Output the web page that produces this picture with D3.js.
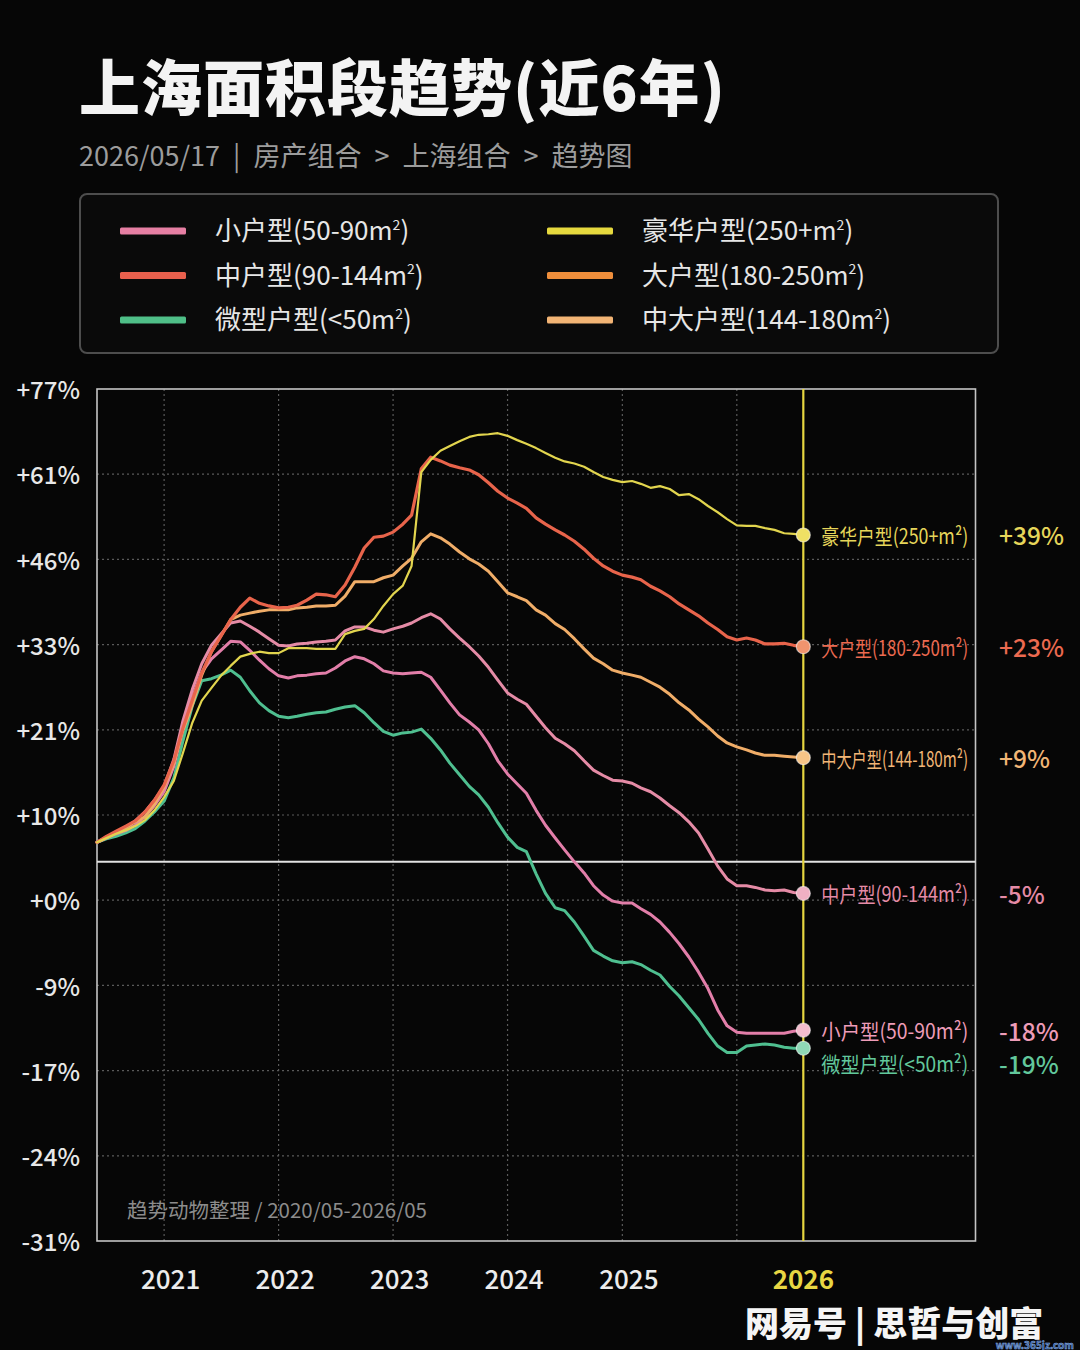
<!DOCTYPE html>
<html>
<head>
<meta charset="utf-8">
<script src="https://cdn.jsdelivr.net/npm/d3@7"></script>
<style>
html,body{margin:0;padding:0;background:#060606;}
svg{display:block;}
text{font-family:"Noto Sans CJK SC","Noto Sans",sans-serif;}
</style>
</head>
<body>
<svg id="chart" width="1080" height="1350"></svg>
<script>
// ---------------- DATA ----------------
const categories = ['小户型(50-90m²)','中户型(90-144m²)','微型户型(<50m²)','豪华户型(250+m²)','大户型(180-250m²)','中大户型(144-180m²)'];
const changeLabels = ['-18%','-5%','-19%','+39%','+23%','+9%'];
const yTickValues = [77,61,46,33,21,10,0,-9,-17,-24,-31];
const yTickLabels = ['+77%','+61%','+46%','+33%','+21%','+10%','+0%','-9%','-17%','-24%','-31%'];
const xTickYears = [2021,2022,2023,2024,2025];
const xTickLabels = ['2021','2022','2023','2024','2025'];
const gridYears = [2021,2022,2023,2024,2025,2026];
const endTickLabel = '2026';
const baselineValue = 4.5;
const firstMonth = [2020, 6];   // monthly series start (year, month)
const lastMonth = [2026, 8];    // monthly series end (year, month)

const valuesSmall = [
 6.8, 7.3, 7.8, 8.2, 8.8, 9.8, 11.2, 13.0, 16.3, 21.0,
 25.6, 29.1, 31.0, 32.2, 33.5, 33.4, 32.2, 30.8, 29.6, 28.6,
 28.3, 28.6, 28.7, 28.9, 29.0, 29.7, 30.7, 31.3, 31.0, 30.3,
 29.3, 29.0, 28.9, 29.0, 29.1, 28.4, 26.6, 24.8, 23.1, 22.1,
 21.0, 19.2, 17.0, 15.3, 14.0, 12.8, 10.6, 8.8, 7.3, 5.9,
 4.5, 3.2, 1.7, 0.6, -0.1, -0.3, -0.3, -0.9, -1.5, -2.3,
 -3.4, -4.6, -6.0, -7.6, -9.3, -11.3, -12.8, -13.4, -13.5, -13.5,
 -13.5, -13.5, -13.5, -13.3, -13.2];
const valuesMedium = [
 6.8, 7.4, 8.0, 8.6, 9.3, 10.4, 11.9, 13.7, 17.2, 22.1,
 26.7, 30.3, 32.9, 34.6, 36.3, 36.6, 35.8, 34.9, 33.9, 32.9,
 32.8, 33.1, 33.2, 33.4, 33.5, 33.7, 35.1, 35.7, 35.7, 35.2,
 34.9, 35.4, 35.8, 36.3, 37.1, 37.7, 36.9, 35.4, 34.0, 32.7,
 31.4, 29.8, 28.0, 26.2, 25.3, 24.6, 22.9, 21.3, 19.9, 19.2,
 18.3, 17.0, 15.8, 15.1, 14.5, 14.4, 14.1, 13.5, 13.0, 12.2,
 11.2, 10.3, 9.2, 7.9, 6.0, 4.0, 2.5, 1.7, 1.7, 1.5,
 1.2, 1.1, 1.2, 0.9, 0.8];
const valuesMicro = [
 6.8, 7.2, 7.5, 7.9, 8.4, 9.3, 10.4, 11.8, 14.8, 19.4,
 24.4, 27.9, 28.2, 28.7, 29.4, 28.4, 26.5, 24.8, 23.7, 22.9,
 22.7, 22.9, 23.2, 23.4, 23.5, 23.9, 24.2, 24.4, 23.4, 22.0,
 20.8, 20.3, 20.6, 20.7, 21.1, 19.9, 18.4, 16.7, 15.2, 13.7,
 12.6, 11.0, 9.1, 7.4, 6.2, 5.7, 3.1, 0.8, -0.8, -1.1,
 -2.3, -3.8, -5.3, -5.9, -6.4, -6.6, -6.5, -6.8, -7.4, -7.9,
 -9.1, -10.0, -11.1, -12.2, -13.5, -14.7, -15.3, -15.3, -14.7, -14.6,
 -14.5, -14.6, -14.8, -14.9, -14.9];
const valuesLuxury = [
 6.8, 7.3, 7.8, 8.2, 8.7, 9.4, 10.6, 12.3, 14.4, 17.9,
 22.0, 25.1, 26.9, 28.6, 30.0, 31.3, 31.7, 32.0, 31.8, 31.8,
 32.5, 32.5, 32.5, 32.4, 32.4, 32.4, 34.6, 35.1, 35.4, 36.9,
 38.9, 40.7, 42.0, 45.0, 61.4, 63.7, 65.4, 66.3, 67.2, 68.0,
 68.4, 68.5, 68.7, 68.2, 67.4, 66.7, 65.9, 65.0, 64.1, 63.4,
 63.0, 62.4, 61.4, 60.5, 60.0, 59.6, 59.8, 59.3, 58.6, 58.9,
 58.4, 57.3, 57.5, 56.6, 55.4, 54.3, 53.1, 52.0, 51.9, 51.9,
 51.5, 51.2, 50.6, 50.5, 50.3];
const valuesLarge = [
 6.8, 7.5, 8.1, 8.7, 9.3, 10.4, 11.9, 13.9, 17.0, 21.1,
 25.2, 29.0, 32.0, 34.3, 36.8, 38.7, 40.1, 39.3, 38.9, 38.6,
 38.7, 39.0, 39.8, 40.7, 40.6, 40.3, 42.1, 44.8, 48.0, 49.9,
 50.1, 50.8, 52.2, 53.8, 62.0, 64.2, 63.5, 62.7, 62.2, 61.8,
 60.9, 59.5, 58.0, 56.8, 55.9, 55.0, 53.3, 52.2, 51.2, 50.3,
 49.2, 47.8, 46.2, 45.0, 44.2, 43.6, 43.3, 42.9, 41.9, 41.2,
 40.3, 39.2, 38.3, 37.4, 36.3, 35.3, 34.2, 33.7, 34.0, 33.7,
 33.1, 33.1, 33.2, 32.9, 32.7];
const valuesMidLarge = [
 6.8, 7.3, 7.9, 8.5, 9.2, 9.8, 11.4, 13.6, 16.7, 20.8,
 24.5, 28.7, 32.0, 34.3, 36.8, 37.5, 37.8, 38.1, 38.3, 38.3,
 38.3, 38.6, 38.7, 38.9, 38.9, 39.0, 40.4, 42.6, 42.6, 42.6,
 43.2, 43.6, 45.0, 46.2, 49.1, 50.5, 49.8, 48.7, 47.3, 46.1,
 45.3, 44.2, 42.6, 40.9, 40.3, 39.7, 38.3, 37.5, 36.2, 35.3,
 33.9, 32.4, 31.1, 30.3, 29.4, 29.0, 28.7, 28.4, 27.7, 27.0,
 26.0, 24.8, 23.8, 22.5, 21.4, 20.2, 19.3, 18.8, 18.4, 18.0,
 17.7, 17.7, 17.6, 17.5, 17.4];
const seriesValues = [valuesSmall, valuesMedium, valuesMicro, valuesLuxury, valuesLarge, valuesMidLarge];

// ---------------- STYLE ----------------
const lineColors   = ['#e27ea9','#e58ba6','#4fbf90','#e2d54e','#e8644b','#f0ad68'];
const legendColors = ['#e67fa3','#e8604d','#4fbf88','#e6d93e','#ef8e3b','#f2b475'];
const labelColors  = ['#ee9cb8','#e58ba6','#62c89c','#e6d65a','#ec6a50','#f2b676'];
const dotColors    = ['#f4bccd','#f0b0c3','#8fd8b6','#efe064','#f0946e','#f6c487'];
const lineWidths   = [3,3,3,2.2,3.2,3];
const drawOrder    = [2,0,1,5,4,3];
const legendSlots  = [[0,0],[0,1],[0,2],[1,0],[1,1],[1,2]];

// helper: write a label, rendering "²" as a small raised 2
function writeLabel(textSel, str, supSize) {
  const parts = str.split('²');
  parts.forEach((p, k) => {
    if (k > 0) {
      textSel.append('tspan').attr('font-size', supSize).attr('dy', -supSize * 0.75).text('2');
      textSel.append('tspan').attr('dy', supSize * 0.75).text(p);
    } else {
      textSel.append('tspan').text(p);
    }
  });
}

// ---------------- LAYOUT ----------------
const svg = d3.select('#chart');
const W = 1080, H = 1350;
const plot = {left: 97, right: 975.5, top: 389, bottom: 1241};

svg.append('rect').attr('width', W).attr('height', H).attr('fill', '#060606');

// Title & subtitle
svg.append('text').attr('x', 79).attr('y', 111)
  .attr('font-size', 61).attr('font-weight', 900).attr('fill', '#f3f3f3')
  .attr('letter-spacing', 1)
  .text('上海面积段趋势(近6年)');
svg.append('text').attr('x', 79).attr('y', 166)
  .attr('font-size', 27).attr('fill', '#9c9c9c').attr('word-spacing', 7)
  .text('2026/05/17 | 房产组合 > 上海组合 > 趋势图');

// Legend
const lg = svg.append('g');
lg.append('rect').attr('x', 80).attr('y', 194).attr('width', 918).attr('height', 159)
  .attr('rx', 7).attr('fill', '#0a0a0a').attr('stroke', '#4d4d4d').attr('stroke-width', 2);
const legendColX = [120, 547];
const legendRowY = [231, 275.5, 320];
categories.forEach((c, i) => {
  const [col, row] = legendSlots[i];
  const gx = legendColX[col], gy = legendRowY[row];
  lg.append('rect').attr('x', gx).attr('y', gy - 3.5).attr('width', 66).attr('height', 7)
    .attr('rx', 1.5).attr('fill', legendColors[i]);
  const t = lg.append('text').attr('x', gx + 95).attr('y', gy + 9)
    .attr('font-size', 26).attr('fill', '#e6e6e6');
  writeLabel(t, c, 14);
});

// Scales
const parseMonth = ([yy, mm]) => new Date(yy, mm - 1, 1);
const dates = d3.timeMonth.range(parseMonth(firstMonth), d3.timeMonth.offset(parseMonth(lastMonth), 1));
const x = d3.scaleTime().domain([new Date(2020, 5, 1), new Date(2028, 1, 1)]).range([plot.left, plot.right]);
const step = (plot.bottom - plot.top) / (yTickValues.length - 1);
const y = d3.scaleLinear().domain(yTickValues).range(yTickValues.map((d, i) => plot.top + i * step));

// Grid
const grid = svg.append('g');
grid.selectAll('line.h').data(yTickValues.slice(1, -1)).join('line')
  .attr('x1', plot.left).attr('x2', plot.right)
  .attr('y1', d => y(d)).attr('y2', d => y(d))
  .attr('stroke', '#5a5a5a').attr('stroke-width', 1.2).attr('stroke-dasharray', '2,3');
grid.selectAll('line.v').data(gridYears).join('line')
  .attr('x1', d => x(new Date(d, 0, 1))).attr('x2', d => x(new Date(d, 0, 1)))
  .attr('y1', plot.top).attr('y2', plot.bottom)
  .attr('stroke', '#5a5a5a').attr('stroke-width', 1.2).attr('stroke-dasharray', '2,3');

// Frame
svg.append('rect').attr('x', plot.left).attr('y', plot.top)
  .attr('width', plot.right - plot.left).attr('height', plot.bottom - plot.top)
  .attr('fill', 'none').attr('stroke', '#c4c4c4').attr('stroke-width', 1.6);

// Baseline
svg.append('line').attr('x1', plot.left).attr('x2', plot.right)
  .attr('y1', y(baselineValue)).attr('y2', y(baselineValue))
  .attr('stroke', '#e2e2e2').attr('stroke-width', 2);

// Source note
svg.append('text').attr('x', 127).attr('y', 1209).attr('dominant-baseline', 'central')
  .attr('font-size', 20.5).attr('fill', '#8c8c8c').text('趋势动物整理 / 2020/05-2026/05');

// Y axis
const yAxis = svg.append('g').attr('transform', `translate(${plot.left},0)`)
  .call(d3.axisLeft(y).tickValues(yTickValues).tickFormat((d, i) => yTickLabels[i]).tickSize(0).tickPadding(17));
yAxis.select('.domain').remove();
yAxis.selectAll('text').attr('font-size', 24).attr('font-weight', 500).attr('fill', '#e8e8e8')
  .attr('font-family', '"Noto Sans","Noto Sans CJK SC",sans-serif').attr('dy', '0.4em');

// X axis
const xAxis = svg.append('g').attr('transform', `translate(0,${plot.bottom})`)
  .call(d3.axisBottom(x).tickValues(xTickYears.map(yy => new Date(yy, 0, 1)))
    .tickFormat((d, i) => xTickLabels[i]).tickSize(0).tickPadding(30));
xAxis.select('.domain').remove();
xAxis.selectAll('text').attr('font-size', 26).attr('font-weight', 500).attr('fill', '#ececec')
  .attr('font-family', '"Noto Sans","Noto Sans CJK SC",sans-serif').attr('x', 6);

// End marker line
const lastDate = dates[dates.length - 1];
const xEnd = x(lastDate);
svg.append('line').attr('x1', xEnd).attr('x2', xEnd).attr('y1', plot.top).attr('y2', plot.bottom)
  .attr('stroke', '#e6d540').attr('stroke-width', 2.2);
svg.append('text').attr('x', xEnd).attr('y', plot.bottom + 30).attr('dy', '0.71em').attr('text-anchor', 'middle')
  .attr('font-size', 26).attr('font-weight', 700).attr('fill', '#e8d643')
  .attr('font-family', '"Noto Sans","Noto Sans CJK SC",sans-serif').text(endTickLabel);

// Lines
const line = d3.line().x((d, i) => x(dates[i])).y(d => y(d)).curve(d3.curveLinear);
const linesG = svg.append('g').attr('fill', 'none').attr('stroke-linejoin', 'round').attr('stroke-linecap', 'round');
drawOrder.forEach(i => {
  linesG.append('path').datum(seriesValues[i]).attr('d', line)
    .attr('stroke', lineColors[i]).attr('stroke-width', lineWidths[i]);
});

// End dots
seriesValues.forEach((vals, i) => {
  svg.append('circle').attr('cx', xEnd).attr('cy', y(vals[vals.length - 1])).attr('r', 7)
    .attr('fill', dotColors[i]).attr('stroke', 'rgba(255,255,255,0.55)').attr('stroke-width', 1.2);
});

// End labels with simple collision avoidance
const ends = seriesValues.map((vals, i) => ({i, y: y(vals[vals.length - 1])})).sort((a, b) => a.y - b.y);
const minGap = 33;
for (let k = 1; k < ends.length; k++) {
  if (ends[k].y - ends[k - 1].y < minGap) ends[k].y = ends[k - 1].y + minGap;
}
const nameWidth = 147;
ends.forEach(e => {
  const t = svg.append('text').attr('dominant-baseline', 'central')
    .attr('font-size', 21).attr('fill', labelColors[e.i])
    .text(categories[e.i]);
  const natural = t.node().getComputedTextLength();
  t.attr('transform', `translate(${xEnd + 18},${e.y}) scale(${nameWidth / natural},1)`);
  svg.append('text').attr('x', 999).attr('y', e.y).attr('dominant-baseline', 'central')
    .attr('font-size', 24.5).attr('font-weight', 500)
    .attr('font-family', '"Noto Sans","Noto Sans CJK SC",sans-serif')
    .attr('fill', labelColors[e.i]).text(changeLabels[e.i]);
});

// Watermarks
svg.append('text').attr('x', 745).attr('y', 1321).attr('dominant-baseline', 'central')
  .attr('font-size', 34).attr('font-weight', 900).attr('fill', '#f5f5f5').text('网易号 | 思哲与创富');
svg.append('text').attr('x', 1074).attr('y', 1344).attr('text-anchor', 'end').attr('dominant-baseline', 'central')
  .attr('font-size', 10).attr('font-weight', 700).attr('fill', '#2a4f8a')
  .attr('stroke', '#8fb4e8').attr('stroke-width', 0.5)
  .attr('font-family', '"DejaVu Sans",sans-serif').text('www.365jz.com');
</script>
</body>
</html>
